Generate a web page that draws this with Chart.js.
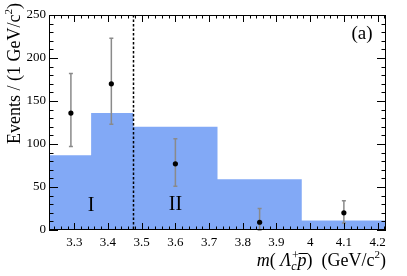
<!DOCTYPE html>
<html><head><meta charset="utf-8">
<script src="https://cdn.jsdelivr.net/npm/chart.js@4.4.0/dist/chart.umd.min.js"></script>
<style>html,body{margin:0;padding:0;background:#fff}canvas{display:block}</style>
</head><body>
<canvas id="c" width="407" height="276"></canvas>
<script>
const binEdges = [3.225, 3.35, 3.475, 3.725, 3.975, 4.225];
const binCounts = [87, 136, 120, 59, 11];
const pointX = [3.29, 3.41, 3.6, 3.85, 4.1];
const pointY = [136, 170, 77, 9, 20];
const errLow = [97, 123, 51, 0, 8];
const errHigh = [182, 223, 106, 25, 34];
const xTickValues = [3.3, 3.4, 3.5, 3.6, 3.7, 3.8, 3.9, 4.0, 4.1, 4.2];
const yTickValues = [0, 50, 100, 150, 200, 250];
const regionLabels = [{x: 3.35, y: 30, t: 'I'}, {x: 3.6, y: 31, t: 'II'}];
const boundaryX = 3.475;

const serif = '"Liberation Serif", "DejaVu Serif", serif';
const histData = binEdges.map((e, i) => ({x: e, y: binCounts[Math.min(i, binCounts.length - 1)]}));
const ptData = pointX.map((x, i) => ({x: x, y: pointY[i]}));

const deco = {
  id: 'deco',
  afterDatasetDraw(chart, args) {
    if (args.index !== 1) return;
    const {ctx, scales: {x, y}} = chart;
    ctx.save();
    ctx.strokeStyle = '#8a8a8a';
    ctx.lineWidth = 1.5;
    pointX.forEach((px, i) => {
      const X = x.getPixelForValue(px);
      const y1 = y.getPixelForValue(errLow[i]);
      const y2 = y.getPixelForValue(errHigh[i]);
      ctx.beginPath();
      ctx.moveTo(X, y1); ctx.lineTo(X, y2);
      ctx.moveTo(X - 2, y1); ctx.lineTo(X + 2, y1);
      ctx.moveTo(X - 2, y2); ctx.lineTo(X + 2, y2);
      ctx.stroke();
    });
    ctx.restore();
  },
  afterDraw(chart) {
    const {ctx, chartArea: a, scales: {x, y}} = chart;
    ctx.save();
    ctx.strokeStyle = '#000';
    ctx.lineWidth = 1.5;
    ctx.setLineDash([2.5, 2]);
    const bx = Math.round(x.getPixelForValue(boundaryX)) + 0.5;
    ctx.beginPath(); ctx.moveTo(bx, a.top); ctx.lineTo(bx, a.bottom); ctx.stroke();
    ctx.setLineDash([]);
    ctx.lineWidth = 1;
    ctx.strokeRect(Math.round(a.left) + 0.5, Math.round(a.top) + 0.5, Math.round(a.right - a.left) - 1, Math.round(a.bottom - a.top) - 1);
    ctx.beginPath();
    for (let k = 162; k <= 211; k++) {
      const v = k / 50;
      const X = Math.round(x.getPixelForValue(v)) + 0.5;
      const L = (k % 5 === 0) ? 7 : 3.5;
      ctx.moveTo(X, a.bottom); ctx.lineTo(X, a.bottom - L);
      ctx.moveTo(X, a.top); ctx.lineTo(X, a.top + L);
    }
    for (let k = 0; k <= 25; k++) {
      const Y = Math.round(y.getPixelForValue(k * 10)) + 0.5;
      const L = (k % 5 === 0) ? 9 : 4.5;
      ctx.moveTo(a.left, Y); ctx.lineTo(a.left + L, Y);
      ctx.moveTo(a.right, Y); ctx.lineTo(a.right - L, Y);
    }
    ctx.stroke();
    ctx.fillStyle = '#000';
    ctx.font = '20px ' + serif;
    ctx.textAlign = 'center';
    ctx.textBaseline = 'alphabetic';
    regionLabels.forEach(r => {
      ctx.fillText(r.t, x.getPixelForValue(r.x), y.getPixelForValue(r.y) + 7);
    });
    ctx.font = '19px ' + serif;
    ctx.fillText('(a)', 362, 39);
    const parts = [
      {t: 'm', f: 'italic 18px', dy: 0},
      {t: '( ', f: '18px', dy: 0},
      {t: 'Λ', f: 'italic 18px', dy: 0},
      {t: '+', f: 'italic 12px', dy: -7, noAdv: true},
      {t: 'c', f: 'italic 12px', dy: 4},
      {t: 'p', f: 'italic 18px', dy: 0, over: true, pre: 1},
      {t: ') ', f: '18px', dy: 0},
      {t: ' (GeV/c', f: '18px', dy: 0},
      {t: '2', f: '11px', dy: -8},
      {t: ')', f: '18px', dy: 0}
    ];
    let total = 0;
    parts.forEach(p => { ctx.font = p.f + ' ' + serif; p.w = ctx.measureText(p.t).width; if (!p.noAdv) total += p.w + (p.pre || 0); });
    let cx = 386 - total;
    const base = 266;
    ctx.textAlign = 'left';
    parts.forEach(p => {
      ctx.font = p.f + ' ' + serif;
      cx += (p.pre || 0);
      ctx.fillText(p.t, cx, base + p.dy);
      if (p.over) { ctx.fillRect(cx + 1, base - 13, p.w, 1); }
      if (!p.noAdv) cx += p.w;
    });
    ctx.save();
    ctx.translate(20, 3);
    ctx.rotate(-Math.PI / 2);
    const yp = [
      {t: 'Events / (1 GeV/c', f: '18px', dy: 0},
      {t: '2', f: '11px', dy: -8},
      {t: ')', f: '18px', dy: 0}
    ];
    let tw = 0;
    yp.forEach(p => { ctx.font = p.f + ' ' + serif; p.w = ctx.measureText(p.t).width; tw += p.w; });
    let ux = -tw;
    yp.forEach(p => { ctx.font = p.f + ' ' + serif; ctx.fillText(p.t, ux, p.dy); ux += p.w; });
    ctx.restore();
    ctx.restore();
  }
};

new Chart(document.getElementById('c'), {
  type: 'line',
  data: {
    datasets: [
      {
        type: 'scatter', data: ptData, order: 1,
        pointRadius: 2.6, pointBackgroundColor: '#000', pointBorderColor: '#000', pointBorderWidth: 0,
        showLine: false
      },
      {
        type: 'line', data: histData, order: 2, stepped: 'before',
        fill: 'origin', backgroundColor: '#82a9f6', borderColor: '#82a9f6', borderWidth: 0,
        pointRadius: 0
      }
    ]
  },
  options: {
    responsive: false, animation: false, devicePixelRatio: 1,
    layout: {padding: {top: 15, right: 21, left: 0, bottom: 0}},
    plugins: {legend: {display: false}, tooltip: {enabled: false}},
    scales: {
      x: {
        type: 'linear', min: 3.225, max: 4.225,
        grid: {display: false, drawTicks: false},
        border: {display: false},
        afterBuildTicks: s => { s.ticks = xTickValues.map(v => ({value: v})); },
        ticks: {
          padding: 5, color: '#000',
          font: {family: serif, size: 13},
          callback: v => String(parseFloat(Number(v).toFixed(2)))
        },
        afterFit: s => { s.height = 46; }
      },
      y: {
        min: 0, max: 250,
        grid: {display: false, drawTicks: false},
        border: {display: false},
        afterBuildTicks: s => { s.ticks = yTickValues.map(v => ({value: v})); },
        ticks: {padding: 3, color: '#000', font: {family: serif, size: 13}},
        afterFit: s => { s.width = 49; }
      }
    }
  },
  plugins: [deco]
});
</script>
</body></html>
